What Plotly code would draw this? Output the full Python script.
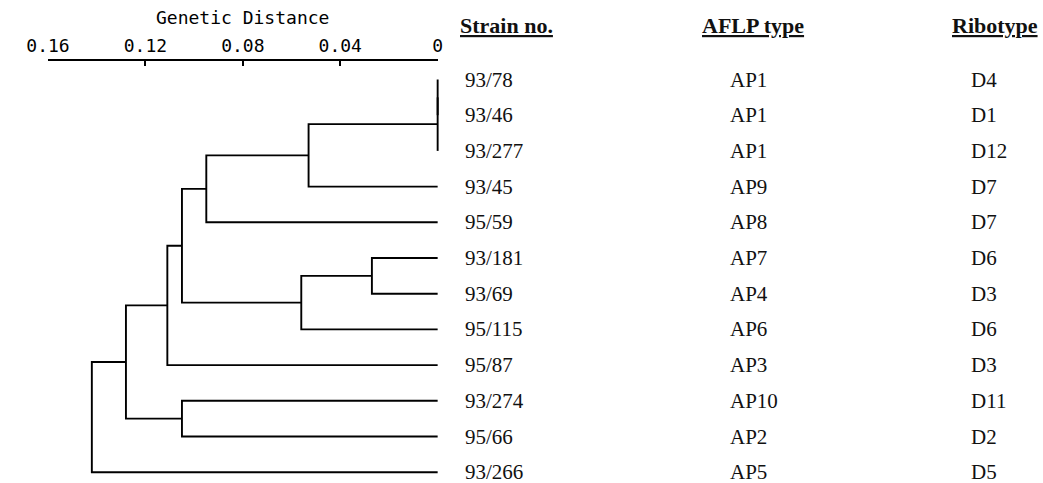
import plotly.graph_objects as go

# ---- data ----
strains = ["93/78", "93/46", "93/277", "93/45", "95/59", "93/181",
           "93/69", "95/115", "95/87", "93/274", "95/66", "93/266"]
aflp_types = ["AP1", "AP1", "AP1", "AP9", "AP8", "AP7",
              "AP4", "AP6", "AP3", "AP10", "AP2", "AP5"]
ribotypes = ["D4", "D1", "D12", "D7", "D7", "D6",
             "D3", "D6", "D3", "D11", "D2", "D5"]
# hierarchical merges (leaves 0..11, internal nodes numbered from 12)
merge_left = [0, 12, 13, 14, 5, 16, 15, 18, 9, 19, 21]
merge_right = [1, 2, 3, 4, 6, 7, 17, 8, 10, 20, 11]
merge_dist = [0.0, 0.0, 0.053, 0.095, 0.027, 0.056, 0.105, 0.111, 0.105, 0.128, 0.142]
tick_vals = [0.16, 0.12, 0.08, 0.04, 0.0]
tick_text = ["0.16", "0.12", "0.08", "0.04", "0"]
headers = ["Strain no.", "AFLP type", "Ribotype"]

# ---- layout constants ----
W, H = 1043, 483
x0_px, px_per_unit = 426.7, 2500.0
row0_px, row_step = 79.5, 35.7
axis_line_px = 61

# ---- build dendrogram segments ----
n = len(strains)
node_y = list(range(n))
node_d = [0.0] * n
xs, ys = [], []
for l, r, d in zip(merge_left, merge_right, merge_dist):
    xs += [node_d[l], d, d, node_d[r], None]
    ys += [node_y[l], node_y[l], node_y[r], node_y[r], None]
    node_y.append((node_y[l] + node_y[r]) / 2)
    node_d.append(d)

fig = go.Figure()
fig.add_trace(go.Scatter(x=xs, y=ys, mode="lines",
                         line=dict(color="black", width=1.9),
                         hoverinfo="skip", showlegend=False))
# invisible trace to carry the distance axis
fig.add_trace(go.Scatter(x=[tick_vals[0], tick_vals[-1]], y=[0, 0], xaxis="x2", yaxis="y2",
                         mode="markers", marker=dict(opacity=0), hoverinfo="skip",
                         showlegend=False))

serif = "Liberation Serif"
mono = "DejaVu Sans Mono"
col_x_px = [453, 725, 972]
head_x_px = [448, 696, 953]
columns = [strains, aflp_types, ribotypes]

annotations = []
for cx, col in zip(col_x_px, columns):
    for i, t in enumerate(col):
        annotations.append(dict(x=cx / W, xref="paper", y=i, yref="y", text=t,
                                showarrow=False, xanchor="left", yanchor="middle",
                                font=dict(family=serif, size=21, color="#111111")))
for hx, h in zip(head_x_px, headers):
    annotations.append(dict(x=hx / W, xref="paper", y=1 - 26 / H, yref="paper",
                            text="<b><u>" + h + "</u></b>", showarrow=False,
                            xanchor="left", yanchor="middle",
                            font=dict(family=serif, size=22, color="#111111")))
annotations.append(dict(x=0.08, xref="x2", y=1 - 18 / H, yref="paper",
                        text="Genetic Distance", showarrow=False,
                        xanchor="center", yanchor="middle",
                        font=dict(family=mono, size=18, color="black")))

x_left = x0_px / px_per_unit
x_right = (x0_px - W) / px_per_unit
y_top = -row0_px / row_step
y_bot = (H - row0_px) / row_step

fig.update_layout(
    width=W, height=H,
    margin=dict(l=0, r=0, t=0, b=0),
    paper_bgcolor="white", plot_bgcolor="rgba(0,0,0,0)",
    xaxis=dict(range=[x_left, x_right], visible=False, domain=[0, 1]),
    yaxis=dict(range=[y_bot, y_top], visible=False, domain=[0, 1]),
    xaxis2=dict(domain=[(x0_px - 0.16 * px_per_unit) / W, x0_px / W],
                range=[0.16, 0.0], anchor="y2", side="top",
                tickvals=tick_vals, ticktext=tick_text,
                ticks="inside", ticklen=5, tickwidth=2, tickcolor="black",
                showline=True, linewidth=2, linecolor="black",
                showgrid=False, zeroline=False,
                tickfont=dict(family=mono, size=18, color="black")),
    yaxis2=dict(domain=[0, 1 - axis_line_px / H], anchor="x2",
                range=[-1, 1], visible=False),
    annotations=annotations,
)

fig.write_html("out.html", config={"displayModeBar": False},
               post_script="document.body.style.margin='0';document.body.style.overflow='hidden';")
